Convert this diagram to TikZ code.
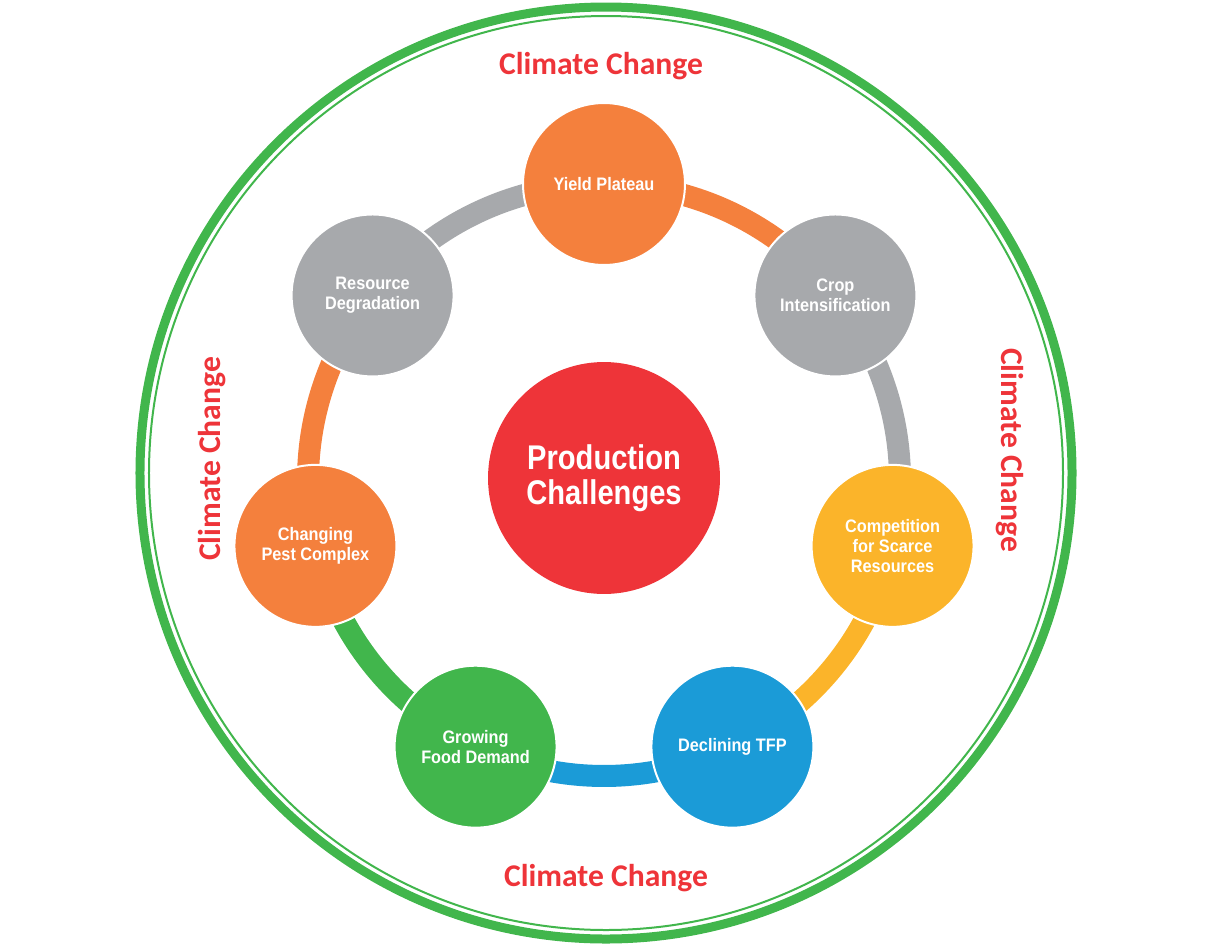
\documentclass[tikz,border=0pt]{standalone}
\usepackage{fontspec}
\setmainfont{Liberation Sans}
\newfontfamily\labelfont{Carlito Bold}
\newfontfamily\stagefont[FakeStretch=0.9]{Liberation Sans Bold}
\newfontfamily\hubfont[FakeStretch=0.85]{Liberation Sans Bold}
\usetikzlibrary{positioning}
\definecolor{cOrange}{HTML}{F4803D}
\definecolor{cGray}{HTML}{A7A9AC}
\definecolor{cYellow}{HTML}{FBB42A}
\definecolor{cBlue}{HTML}{1B9BD7}
\definecolor{cGreen}{HTML}{41B64C}
\definecolor{cRed}{HTML}{EE3439}

\begin{document}
\begin{tikzpicture}[
    x=0.02cm, y=0.02cm,
    stage/.style={circle, draw=white, line width=0.04cm, minimum size=3.24cm,
                  inner sep=0pt, align=center, text=white,
                  font=\stagefont\fontsize{10.3}{11.4}\selectfont},
    hub/.style={circle, fill=cRed, minimum size=4.64cm, inner sep=0pt,
                align=center, text=white,
                font=\hubfont\fontsize{19.5}{20}\selectfont},
    link/.style={line width=0.44cm},
    climate/.style={text=cRed, font=\labelfont\fontsize{18}{20}\selectfont},
  ]
  \useasboundingbox (-604,-468) rectangle (608,480);

  % outer double ring
  \draw[cGreen, line width=0.18cm] (2,7) circle[radius=466];
  \draw[cGreen, line width=0.04cm] (2,7) circle[radius=457];

  \node[climate] (cctop) at (-3,414) {Climate Change};
  \node[climate] (ccbottom) at (2,-398) {Climate Change};
  \node[climate, rotate=90] (ccleft) at (-392,21) {Climate Change};
  \node[climate, rotate=-90] (ccright) at (406,30) {Climate Change};

  % ring of challenges
  \coordinate (yieldc) at (90:296);
  \coordinate (cropc) at (38.571:296);
  \coordinate (compc) at (-12.857:296);
  \coordinate (tfpc) at (-64.286:296);
  \coordinate (foodc) at (-115.714:296);
  \coordinate (pestc) at (-167.143:296);
  \coordinate (degrc) at (141.429:296);

  \draw[link, cOrange] (yieldc) arc[start angle=90, end angle=38.571, radius=296];
  \draw[link, cGray] (cropc) arc[start angle=38.571, end angle=-12.857, radius=296];
  \draw[link, cYellow] (compc) arc[start angle=-12.857, end angle=-64.286, radius=296];
  \draw[link, cBlue] (tfpc) arc[start angle=-64.286, end angle=-115.714, radius=296];
  \draw[link, cGreen] (foodc) arc[start angle=-115.714, end angle=-167.143, radius=296];
  \draw[link, cOrange] (pestc) arc[start angle=-167.143, end angle=-218.571, radius=296];
  \draw[link, cGray] (degrc) arc[start angle=141.429, end angle=90, radius=296];

  \node[stage, fill=cOrange] (yield) at (yieldc) {Yield Plateau};
  \node[stage, fill=cGray] (crop) at (cropc) {Crop\\Intensification};
  \node[stage, fill=cYellow] (comp) at (compc) {Competition\\for Scarce\\Resources};
  \node[stage, fill=cBlue] (tfp) at (tfpc) {Declining TFP};
  \node[stage, fill=cGreen] (food) at (foodc) {Growing\\Food Demand};
  \node[stage, fill=cOrange] (pest) at (pestc) {Changing\\Pest Complex};
  \node[stage, fill=cGray] (degr) at (degrc) {Resource\\Degradation};

  \node[hub] (hub) at (0,2) {Production\\Challenges};
\end{tikzpicture}
\end{document}
